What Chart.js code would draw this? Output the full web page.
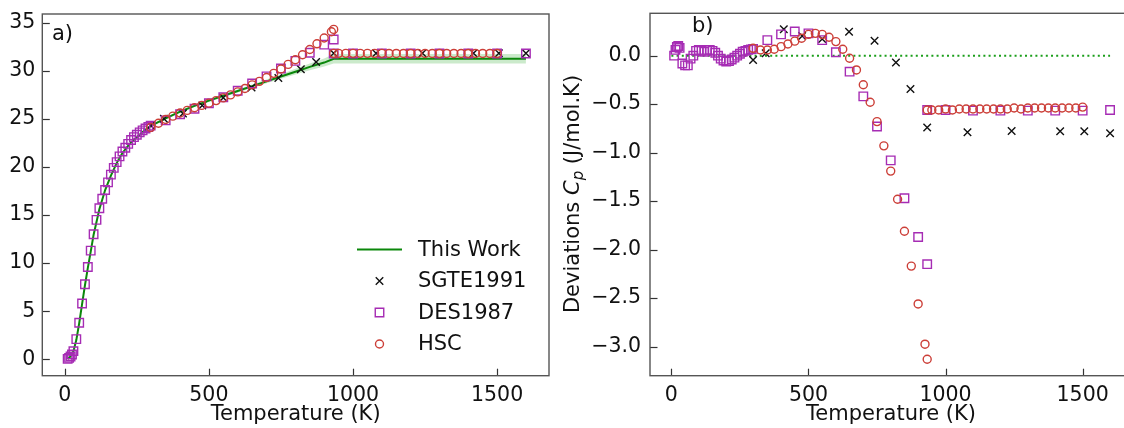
<!DOCTYPE html>
<html><head><meta charset="utf-8">
<script src="https://cdn.jsdelivr.net/npm/chart.js@4.4.1/dist/chart.umd.min.js"></script>
<style>
html,body{margin:0;padding:0;background:#fff;overflow:hidden;width:1124px;height:428px;position:relative;}
#ca{position:absolute;left:0;top:0;}
#cb{position:absolute;left:560px;top:0;}
</style></head><body>
<canvas id="ca" width="560" height="428"></canvas>
<canvas id="cb" width="580" height="428"></canvas>
<script>
// ---------- data ----------
const xTicks = [0, 500, 1000, 1500];
const yTicksA = [0, 5, 10, 15, 20, 25, 30, 35];
const yTicksB = [0, -0.5, -1.0, -1.5, -2.0, -2.5, -3.0];

const thisWorkT  = [10, 20, 30, 40, 50, 60, 70, 80, 90, 100, 120, 140, 160, 180, 200, 225, 250, 275, 300, 350, 400, 450, 500, 550, 600, 650, 700, 750, 800, 850, 900, 933, 1000, 1200, 1400, 1600];
const thisWorkCp = [0.05, 0.3, 0.85, 2.0, 3.75, 5.75, 7.7, 9.5, 11.2, 12.95, 15.6, 17.6, 19.1, 20.4, 21.45, 22.4, 23.1, 23.75, 24.3, 25.05, 25.75, 26.35, 26.9, 27.4, 27.9, 28.4, 28.9, 29.4, 29.9, 30.4, 30.85, 31.25, 31.25, 31.25, 31.25, 31.25];
const bandLow    = [0.0, 0.2, 0.75, 1.9, 3.65, 5.65, 7.6, 9.4, 11.1, 12.85, 15.5, 17.5, 19.0, 20.3, 21.35, 22.3, 23.0, 23.65, 24.18, 24.92, 25.62, 26.22, 26.76, 27.25, 27.74, 28.22, 28.7, 29.16, 29.6, 30.05, 30.43, 30.76, 30.76, 30.76, 30.76, 30.76];
const bandHigh   = [0.1, 0.4, 0.95, 2.1, 3.85, 5.85, 7.8, 9.6, 11.3, 13.05, 15.7, 17.7, 19.2, 20.5, 21.55, 22.5, 23.2, 23.85, 24.42, 25.18, 25.88, 26.48, 27.04, 27.55, 28.06, 28.58, 29.1, 29.64, 30.2, 30.75, 31.27, 31.75, 31.75, 31.75, 31.75, 31.75];

const sgteT   = [298, 344, 410, 477, 550, 648, 741, 819, 872, 933, 1080, 1241, 1418, 1506, 1600];
const sgteCp  = [24.3, 25.0, 25.55, 26.4, 27.2, 28.25, 29.25, 30.15, 30.9, 31.82, 31.82, 31.82, 31.82, 31.82, 31.82];
const sgteDev = [-0.044, 0.025, 0.272, 0.203, 0.172, 0.247, 0.155, -0.07, -0.343, -0.74, -0.79, -0.776, -0.78, -0.78, -0.80];

const desT   = [10, 15, 20, 25, 30, 40, 50, 60, 70, 80, 90, 100, 110, 120, 130, 140, 150, 160, 170, 180, 190, 200, 210, 220, 230, 240, 250, 260, 270, 280, 290, 298, 350, 400, 450, 500, 550, 600, 650, 700, 750, 800, 850, 900, 933, 933, 1000, 1100, 1200, 1300, 1400, 1500, 1600];
const desCp  = [0.05, 0.15, 0.3, 0.5, 0.85, 2.1, 3.8, 5.8, 7.8, 9.6, 11.3, 13.0, 14.5, 15.7, 16.7, 17.6, 18.4, 19.2, 19.9, 20.5, 21.1, 21.6, 22.0, 22.4, 22.8, 23.1, 23.35, 23.6, 23.8, 24.0, 24.15, 24.3, 24.84, 25.48, 26.05, 26.62, 27.24, 27.92, 28.67, 29.42, 30.23, 31.03, 31.87, 32.72, 33.25, 31.8, 31.8, 31.8, 31.8, 31.8, 31.8, 31.8, 31.8];
const desDev = [0.0, 0.06, 0.09, 0.1, 0.08, -0.08, -0.1, -0.1, -0.03, 0.0, 0.05, 0.06, 0.05, 0.04, 0.06, 0.06, 0.05, 0.03, 0.0, -0.03, -0.05, -0.06, -0.055, -0.04, -0.02, 0.0, 0.02, 0.04, 0.05, 0.06, 0.065, 0.07, 0.16, 0.22, 0.25, 0.23, 0.16, 0.035, -0.165, -0.42, -0.73, -1.08, -1.47, -1.87, -2.15, -0.56, -0.56, -0.567, -0.567, -0.567, -0.567, -0.567, -0.56];

const hscT   = [298, 325, 350, 375, 400, 425, 450, 475, 500, 525, 550, 575, 600, 625, 650, 675, 700, 725, 750, 775, 800, 825, 850, 875, 900, 925, 933, 933, 950, 975, 1000, 1025, 1050, 1075, 1100, 1125, 1150, 1175, 1200, 1225, 1250, 1275, 1300, 1325, 1350, 1375, 1400, 1425, 1450, 1475, 1500];
const hscCp  = [24.1, 24.54, 24.94, 25.28, 25.61, 25.88, 26.15, 26.4, 26.63, 26.9, 27.18, 27.49, 27.8, 28.16, 28.53, 28.9, 29.3, 29.73, 30.18, 30.66, 31.14, 31.66, 32.21, 32.8, 33.41, 34.05, 34.3, 31.81, 31.81, 31.81, 31.81, 31.81, 31.81, 31.81, 31.81, 31.8, 31.8, 31.8, 31.8, 31.8, 31.8, 31.8, 31.8, 31.8, 31.8, 31.8, 31.8, 31.8, 31.8, 31.8, 31.8];
const hscDev = [0.076, 0.059, 0.059, 0.066, 0.093, 0.12, 0.15, 0.18, 0.22, 0.23, 0.22, 0.19, 0.145, 0.066, -0.027, -0.147, -0.30, -0.48, -0.68, -0.93, -1.19, -1.48, -1.81, -2.17, -2.56, -2.975, -3.13, -0.56, -0.56, -0.56, -0.55, -0.56, -0.55, -0.55, -0.55, -0.55, -0.55, -0.55, -0.55, -0.55, -0.54, -0.55, -0.54, -0.54, -0.54, -0.54, -0.54, -0.54, -0.54, -0.54, -0.53];

const zeroT = [0, 1600];
const zeroDev = [0, 0];

// ---------- styles ----------
const FONT = '"DejaVu Sans", Verdana, sans-serif';
const GREEN = '#0b870b';
const PURPLE = '#a62cb4';
const RED = '#cc3f38';
const pts = (xs, ys) => xs.map((x, i) => ({x: x, y: ys[i]}));

const markerSet = (label, xs, ys, style, color, r, order) => ({
  label: label, data: pts(xs, ys), showLine: false, pointStyle: style,
  pointRadius: r, pointBorderWidth: 1.4, borderColor: color, pointBorderColor: color,
  backgroundColor: 'rgba(0,0,0,0)', pointBackgroundColor: 'rgba(0,0,0,0)', order: order
});

function axisX(hAfter) {
  return {
    type: 'linear', min: -78, max: 1680,
    afterBuildTicks: s => { s.ticks = xTicks.map(v => ({value: v})); },
    ticks: {font: {family: FONT, size: 20.5}, color: '#111', padding: 8, maxRotation: 0, autoSkip: false,
            callback: v => String(v)},
    grid: {display: false, drawTicks: false}, border: {display: false},
    title: {display: true, text: 'Temperature (K)', font: {family: FONT, size: 21}, color: '#111', padding: {top: 0, bottom: 1}},
    afterFit: s => { s.height = hAfter; s.paddingLeft = 0; s.paddingRight = 0; }
  };
}

function decoPlugin(cfg) {
  return {
    id: 'deco' + cfg.name,
    afterDraw(chart) {
      const ctx = chart.ctx, a = chart.chartArea;
      const xs = chart.scales.x, ys = chart.scales.y;
      ctx.save();
      ctx.strokeStyle = '#333'; ctx.lineWidth = 1.2;
      xs.ticks.forEach(t => {
        const px = Math.round(xs.getPixelForValue(t.value)) + 0.5;
        ctx.beginPath(); ctx.moveTo(px, a.bottom); ctx.lineTo(px, a.bottom - 7); ctx.stroke();
      });
      ys.ticks.forEach(t => {
        const py = Math.round(ys.getPixelForValue(t.value)) + 0.5;
        ctx.beginPath(); ctx.moveTo(a.left, py); ctx.lineTo(a.left + 7.5, py); ctx.stroke();
      });
      ctx.strokeStyle = '#555'; ctx.lineWidth = 1.4;
      ctx.strokeRect(a.left, a.top, a.right - a.left, a.bottom - a.top);
      ctx.fillStyle = '#111';
      ctx.font = '21px ' + FONT; ctx.textBaseline = 'alphabetic'; ctx.textAlign = 'left';
      ctx.fillText(cfg.panel, cfg.px, cfg.py);
      if (cfg.legend) {
        const ds = chart.data.datasets;
        const rows = [249.5, 281, 312.5, 344];
        cfg.legend.forEach((idx, i) => {
          const d = ds[idx], y = rows[i];
          if (d.showLine) {
            ctx.strokeStyle = d.borderColor; ctx.lineWidth = d.borderWidth;
            ctx.beginPath(); ctx.moveTo(357, y); ctx.lineTo(402, y); ctx.stroke();
          } else {
            ctx.strokeStyle = d.pointBorderColor; ctx.lineWidth = d.pointBorderWidth;
            ctx.fillStyle = 'rgba(0,0,0,0)';
            Chart.helpers.drawPoint(ctx, {pointStyle: d.pointStyle, radius: d.pointRadius, borderWidth: d.pointBorderWidth}, 379.5, y);
          }
          ctx.fillStyle = '#111'; ctx.textBaseline = 'middle'; ctx.font = '21px ' + FONT;
          ctx.fillText(d.label, 418, y + 1);
        });
      }
      if (cfg.ylabel) {
        ctx.translate(cfg.ylx, cfg.yly);
        ctx.rotate(-Math.PI / 2);
        const parts = [['Deviations ', '21px ' + FONT, 0], ['C', 'italic 21px ' + FONT, 0], ['p', 'italic 15px ' + FONT, 5], [' (J/mol.K)', '21px ' + FONT, 0]];
        let total = 0;
        parts.forEach(p => { ctx.font = p[1]; total += ctx.measureText(p[0]).width; });
        let x = -total / 2;
        ctx.textBaseline = 'middle'; ctx.fillStyle = '#111';
        parts.forEach(p => { ctx.font = p[1]; ctx.fillText(p[0], x, p[2]); x += ctx.measureText(p[0]).width; });
      }
      ctx.restore();
    }
  };
}

function axisY(min, max, ticks, pad, w, cb) {
  const t = {font: {family: FONT, size: 20.5}, color: '#111', padding: pad, autoSkip: false};
  if (cb) t.callback = cb;
  return {
    type: 'linear', min: min, max: max,
    afterBuildTicks: s => { s.ticks = ticks.map(v => ({value: v})); },
    ticks: t,
    grid: {display: false, drawTicks: false}, border: {display: false},
    afterFit: s => { s.width = w; s.paddingTop = 0; s.paddingBottom = 0; }
  };
}

// ---------- chart a ----------
new Chart(document.getElementById('ca'), {
  type: 'line',
  data: {datasets: [
    {label: 'This Work', data: pts(thisWorkT, thisWorkCp), showLine: true, borderColor: GREEN, borderWidth: 2, pointRadius: 0, fill: false, order: 3},
    markerSet('SGTE1991', sgteT, sgteCp, 'crossRot', '#111', 5.3, 2),
    markerSet('DES1987', desT, desCp, 'rect', PURPLE, 6, 1),
    markerSet('HSC', hscT, hscCp, 'circle', RED, 4, 0),
    {label: 'bandHigh', data: pts(thisWorkT, bandHigh), showLine: true, borderWidth: 0, borderColor: 'rgba(0,0,0,0)', pointRadius: 0, fill: '+1', backgroundColor: 'rgba(20,160,20,0.22)', order: 5},
    {label: 'bandLow', data: pts(thisWorkT, bandLow), showLine: true, borderWidth: 0, borderColor: 'rgba(0,0,0,0)', pointRadius: 0, fill: false, order: 6}
  ]},
  options: {
    responsive: false, animation: false, events: [],
    layout: {padding: {left: 0, top: 14, right: 11, bottom: 0}},
    plugins: {legend: {display: false}, tooltip: {enabled: false}},
    scales: {
      x: axisX(52.3),
      y: axisY(-1.7, 35.9, yTicksA, 7, 42.3, null)
    }
  },
  plugins: [decoPlugin({name: 'a', panel: 'a)', px: 52, py: 39.5, legend: [0, 1, 2, 3]})]
});

// ---------- chart b ----------
new Chart(document.getElementById('cb'), {
  type: 'line',
  data: {datasets: [
    {label: 'zero', data: pts(zeroT, zeroDev), showLine: true, borderColor: '#1a9e1a', borderWidth: 2, borderDash: [2, 3.2], pointRadius: 0, fill: false, order: 3},
    markerSet('SGTE1991', sgteT, sgteDev, 'crossRot', '#111', 5.3, 2),
    markerSet('DES1987', desT, desDev, 'rect', PURPLE, 6, 1),
    markerSet('HSC', hscT, hscDev, 'circle', RED, 4, 0)
  ]},
  options: {
    responsive: false, animation: false, events: [],
    layout: {padding: {left: 0, top: 13.3, right: 8, bottom: 0}},
    plugins: {legend: {display: false}, tooltip: {enabled: false}},
    scales: {
      x: axisX(52.3),
      y: axisY(-3.30, 0.437, yTicksB, 9, 90, v => Number(v).toFixed(1).replace('-', '\u2212'))
    }
  },
  plugins: [decoPlugin({name: 'b', panel: 'b)', px: 132, py: 32, ylabel: true, ylx: 14, yly: 194})]
});
</script>
</body></html>
